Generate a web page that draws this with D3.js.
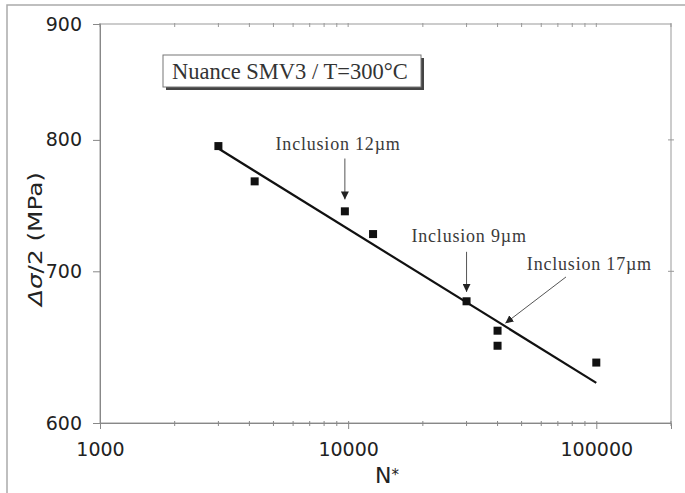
<!DOCTYPE html>
<html>
<head>
<meta charset="utf-8">
<script src="https://cdn.jsdelivr.net/npm/d3@7"></script>
<style>
  body { margin: 0; background: #fff; }
  svg { display: block; }
  .tick-label { font-family: "DejaVu Sans", sans-serif; font-size: 19px; fill: #222; }
  .note { font-family: "Liberation Serif", "Times New Roman", serif; font-size: 18px; fill: #3a3a3a; letter-spacing: 0.8px; }
</style>
</head>
<body>
<div id="wrapper"></div>
<script>
// 1. Data
const cycles = [3000, 4200, 9700, 12600, 30000, 40000, 40000, 100000];
const stress = [795, 767, 744, 727, 679, 659, 649, 638];

// fitted line (end points)
const fitCycles = [3000, 100000];
const fitStress = [793, 625];

const xTicks = [1000, 10000, 100000];
const yTicks = [600, 700, 800, 900];

const noteLabels = ["Inclusion 12\u00b5m", "Inclusion 9\u00b5m", "Inclusion 17\u00b5m"];
const noteTextN = [5100, 18000, 52500];
const noteTextS = [792, 721, 701];
const noteFromN = [9700, 30000, 75500];
const noteFromS = [785, 714, 696];
const noteToN = [9700, 30000, 43000];
const noteToS = [753, 685.5, 664];

// 2. Dimensions
const dimensions = {
  width: 685,
  height: 493,
  margin: { top: 24, right: 14, bottom: 70, left: 100 },
};
dimensions.boundedWidth = dimensions.width - dimensions.margin.left - dimensions.margin.right;
dimensions.boundedHeight = dimensions.height - dimensions.margin.top - dimensions.margin.bottom;

// 3. Canvas
const svg = d3.select("#wrapper")
  .append("svg")
  .attr("width", dimensions.width)
  .attr("height", dimensions.height);

// outer frame
svg.append("path")
  .attr("d", `M7,${dimensions.height} V5 H${dimensions.width}`)
  .attr("fill", "none")
  .attr("stroke", "#aaa")
  .attr("stroke-width", 1.5);

const bounds = svg.append("g")
  .attr("transform", `translate(${dimensions.margin.left},${dimensions.margin.top})`);

// 4. Scales (log on both axes)
const xScale = d3.scaleLog().domain([1000, 200000]).range([0, dimensions.boundedWidth]);
const yScale = d3.scaleLog().domain([600, 900]).range([dimensions.boundedHeight, 0]);

const W = dimensions.boundedWidth;
const H = dimensions.boundedHeight;

// 5. Peripherals
// plot border
bounds.append("rect")
  .attr("width", W)
  .attr("height", H)
  .attr("fill", "none")
  .attr("stroke", "#999")
  .attr("stroke-width", 1);

// minor x ticks
const minorX = [];
for (let dec = 1000; dec < 200000; dec *= 10) {
  for (let k = 2; k <= 9; k++) {
    if (dec * k <= 200000) minorX.push(dec * k);
  }
}

// bottom axis
const xAxis = d3.axisBottom(xScale)
  .tickValues(xTicks)
  .tickFormat(d3.format("d"))
  .tickSize(6)
  .tickPadding(14);
const xAxisG = bounds.append("g")
  .attr("transform", `translate(0,${H})`)
  .call(xAxis);
xAxisG.select(".domain").attr("stroke", "#888");
xAxisG.selectAll(".tick line").attr("stroke", "#888").attr("y1", -2);
xAxisG.selectAll(".tick text").attr("class", "tick-label").attr("font-size", null).attr("font-family", null);

bounds.append("g")
  .selectAll("line")
  .data(minorX)
  .join("line")
  .attr("x1", (d) => xScale(d))
  .attr("x2", (d) => xScale(d))
  .attr("y1", H - 2)
  .attr("y2", H + 3)
  .attr("stroke", "#888");

// top edge ticks
bounds.append("g")
  .selectAll("line")
  .data(minorX.concat(xTicks))
  .join("line")
  .attr("x1", (d) => xScale(d))
  .attr("x2", (d) => xScale(d))
  .attr("y1", -1)
  .attr("y2", 3)
  .attr("stroke", "#999");

// left axis
const yAxis = d3.axisLeft(yScale)
  .tickValues(yTicks)
  .tickFormat(d3.format("d"))
  .tickSize(7)
  .tickPadding(11);
const yAxisG = bounds.append("g").call(yAxis);
yAxisG.select(".domain").attr("stroke", "#888");
yAxisG.selectAll(".tick line").attr("stroke", "#888");
yAxisG.selectAll(".tick text").attr("class", "tick-label").attr("font-size", null).attr("font-family", null);

// right edge ticks
bounds.append("g")
  .selectAll("line")
  .data([700, 800])
  .join("line")
  .attr("x1", W - 3)
  .attr("x2", W + 3)
  .attr("y1", (d) => yScale(d))
  .attr("y2", (d) => yScale(d))
  .attr("stroke", "#999");

// axis titles
const xTitle = svg.append("text")
  .attr("x", 375)
  .attr("y", 483)
  .attr("font-family", "DejaVu Sans, sans-serif")
  .attr("font-size", 22)
  .attr("fill", "#222");
xTitle.append("tspan").text("N");
xTitle.append("tspan").attr("font-size", 15).attr("dy", -3).text("*");

const yTitle = svg.append("text")
  .attr("transform", "translate(42,239) rotate(-90)")
  .attr("text-anchor", "middle")
  .attr("font-family", "DejaVu Sans, sans-serif")
  .attr("font-size", 19)
  .attr("fill", "#222")
  .attr("textLength", 134)
  .attr("lengthAdjust", "spacingAndGlyphs");
yTitle.append("tspan").attr("font-style", "italic").text("\u0394\u03c3");
yTitle.append("tspan").text("/2 (MPa)");

// legend box with shadow
const legend = svg.append("g").attr("transform", "translate(163,55)");
legend.append("rect")
  .attr("x", 3).attr("y", 3)
  .attr("width", 258).attr("height", 32)
  .attr("fill", "#444");
legend.append("rect")
  .attr("width", 258).attr("height", 32)
  .attr("fill", "#fff")
  .attr("stroke", "#777")
  .attr("stroke-width", 1);
legend.append("text")
  .attr("x", 9)
  .attr("y", 24)
  .attr("font-family", "Liberation Serif, Times New Roman, serif")
  .attr("font-size", 22.5)
  .attr("fill", "#333")
  .text("Nuance SMV3 / T=300\u00b0C");

// 6. Data
const line = d3.line()
  .x((d) => xScale(d[0]))
  .y((d) => yScale(d[1]));

bounds.append("path")
  .datum(d3.zip(fitCycles, fitStress))
  .attr("d", line)
  .attr("fill", "none")
  .attr("stroke", "#111")
  .attr("stroke-width", 2.2);

bounds.append("g")
  .selectAll("rect")
  .data(d3.zip(cycles, stress))
  .join("rect")
  .attr("x", (d) => xScale(d[0]) - 4)
  .attr("y", (d) => yScale(d[1]) - 4)
  .attr("width", 8)
  .attr("height", 8)
  .attr("fill", "#111");

// annotations
const defs = svg.append("defs");
defs.append("marker")
  .attr("id", "arrow")
  .attr("viewBox", "0 0 10 10")
  .attr("refX", 10)
  .attr("refY", 5)
  .attr("markerWidth", 8)
  .attr("markerHeight", 8)
  .attr("markerUnits", "userSpaceOnUse")
  .attr("orient", "auto")
  .append("path")
  .attr("d", "M0,0 L10,5 L0,10 z")
  .attr("fill", "#222");

const notes = bounds.append("g");
noteLabels.forEach((label, i) => {
  notes.append("text")
    .attr("class", "note")
    .attr("x", xScale(noteTextN[i]))
    .attr("y", yScale(noteTextS[i]))
    .text(label);
  notes.append("line")
    .attr("x1", xScale(noteFromN[i]))
    .attr("y1", yScale(noteFromS[i]))
    .attr("x2", xScale(noteToN[i]))
    .attr("y2", yScale(noteToS[i]))
    .attr("stroke", "#555")
    .attr("stroke-width", 1)
    .attr("marker-end", "url(#arrow)");
});
</script>
</body>
</html>
